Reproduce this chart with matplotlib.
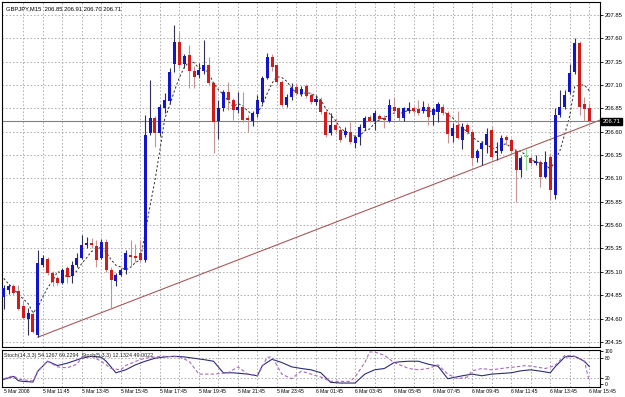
import matplotlib
matplotlib.use('Agg')
import matplotlib.pyplot as plt
import matplotlib.transforms as mtransforms

# GBPJPY M15, 5 Mar 09:45 .. 6 Mar 15:45 (121 bars)
opens = [204.83, 204.90, 204.95, 204.89, 204.73, 204.60, 204.65, 204.42, 205.17, 205.24,
         205.09, 205.03, 204.98, 205.14, 205.06, 205.17, 205.25, 205.39, 205.41, 205.38,
         205.25, 205.42, 205.12, 205.00, 205.07, 205.12, 205.28, 205.27, 205.30, 205.23,
         206.59, 206.75, 206.59, 206.85, 206.93, 207.33, 207.56, 207.32, 207.42, 207.25,
         207.21, 207.25, 207.31, 207.12, 206.72, 206.85, 207.03, 206.94, 206.83, 206.87,
         206.75, 206.71, 206.79, 206.92, 207.18, 207.40, 207.31, 207.13, 206.89, 206.97,
         207.08, 207.00, 207.09, 206.99, 206.92, 206.94, 206.81, 206.59, 206.67, 206.62,
         206.56, 206.60, 206.48, 206.54, 206.64, 206.76, 206.72, 206.77, 206.75, 206.72,
         206.87, 206.85, 206.75, 206.82, 206.85, 206.84, 206.82, 206.86, 206.78, 206.81,
         206.87, 206.80, 206.55, 206.67, 206.51, 206.67, 206.60, 206.32, 206.41, 206.46,
         206.62, 206.37, 206.39, 206.54, 206.51, 206.39, 206.19, 206.33, 206.32, 206.27,
         206.28, 206.12, 206.33, 205.92, 206.78, 206.86, 207.02, 207.24, 207.55, 206.90,
         206.85]
highs = [204.96, 204.97, 204.97, 204.96, 204.79, 204.71, 204.68, 205.33, 205.28, 205.26,
         205.11, 205.06, 205.14, 205.16, 205.22, 205.30, 205.49, 205.47, 205.46, 205.44,
         205.45, 205.45, 205.15, 205.09, 205.14, 205.33, 205.44, 205.40, 205.44, 206.78,
         207.15, 206.77, 206.90, 207.01, 207.28, 207.74, 207.67, 207.43, 207.53, 207.30,
         207.34, 207.58, 207.40, 207.13, 206.94, 207.05, 207.13, 206.96, 207.03, 207.02,
         206.78, 206.82, 206.99, 207.20, 207.44, 207.43, 207.33, 207.15, 207.00, 207.12,
         207.12, 207.09, 207.11, 207.01, 206.99, 206.97, 206.83, 206.80, 206.75, 206.65,
         206.65, 206.70, 206.56, 206.68, 206.77, 206.78, 206.83, 206.79, 206.78, 206.95,
         206.97, 206.87, 206.87, 206.92, 206.88, 206.94, 206.93, 206.91, 206.87, 206.92,
         206.90, 206.82, 206.69, 206.82, 206.69, 206.69, 206.62, 206.41, 206.50, 206.64,
         206.66, 206.49, 206.56, 206.57, 206.53, 206.41, 206.34, 206.41, 206.34, 206.35,
         206.30, 206.39, 206.37, 206.85, 207.05, 207.05, 207.33, 207.60, 207.57, 206.97,
         206.91]
lows = [204.70, 204.86, 204.85, 204.69, 204.60, 204.42, 204.44, 204.40, 205.15, 205.07,
        204.95, 204.96, 204.97, 204.98, 204.98, 205.15, 205.24, 205.36, 205.35, 205.15,
        205.24, 205.10, 204.71, 204.95, 205.05, 205.08, 205.15, 205.20, 205.21, 205.21,
        206.57, 206.44, 206.55, 206.80, 206.90, 207.24, 207.28, 207.28, 207.07, 207.07,
        207.18, 207.22, 207.10, 206.37, 206.52, 206.82, 206.83, 206.73, 206.80, 206.70,
        206.60, 206.66, 206.76, 206.90, 207.16, 207.25, 207.10, 206.86, 206.86, 206.94,
        206.99, 206.98, 206.96, 206.90, 206.89, 206.79, 206.54, 206.57, 206.58, 206.49,
        206.54, 206.47, 206.43, 206.46, 206.62, 206.70, 206.62, 206.72, 206.64, 206.70,
        206.80, 206.71, 206.72, 206.80, 206.79, 206.78, 206.80, 206.67, 206.67, 206.70,
        206.78, 206.48, 206.49, 206.52, 206.42, 206.58, 206.23, 206.28, 206.24, 206.37,
        206.30, 206.30, 206.37, 206.46, 206.37, 205.85, 206.12, 206.19, 206.23, 206.24,
        206.01, 206.10, 205.87, 205.88, 206.76, 206.84, 207.00, 207.22, 206.78, 206.72,
        206.70]
closes = [204.93, 204.95, 204.87, 204.70, 204.61, 204.66, 204.46, 205.19, 205.25, 205.09,
          204.99, 204.98, 205.12, 205.04, 205.17, 205.25, 205.39, 205.41, 205.39, 205.23,
          205.42, 205.12, 205.01, 205.07, 205.12, 205.30, 205.26, 205.25, 205.23, 206.57,
          206.75, 206.59, 206.87, 206.94, 207.24, 207.56, 207.31, 207.41, 207.25, 207.19,
          207.26, 207.31, 207.12, 206.70, 206.85, 207.03, 206.94, 206.83, 206.86, 206.73,
          206.73, 206.80, 206.94, 207.18, 207.40, 207.29, 207.13, 206.89, 206.97, 207.07,
          207.01, 207.06, 206.98, 206.92, 206.95, 206.81, 206.57, 206.67, 206.62, 206.51,
          206.61, 206.49, 206.54, 206.65, 206.75, 206.72, 206.80, 206.74, 206.73, 206.89,
          206.82, 206.75, 206.85, 206.85, 206.82, 206.80, 206.86, 206.76, 206.84, 206.90,
          206.80, 206.58, 206.64, 206.53, 206.65, 206.60, 206.32, 206.39, 206.48, 206.58,
          206.33, 206.39, 206.53, 206.51, 206.39, 206.19, 206.32, 206.33, 206.26, 206.29,
          206.12, 206.28, 205.98, 206.78, 206.86, 206.99, 207.23, 207.55, 206.87, 206.84,
          206.71]

# dashed moving average
ma_line = [205.03, 204.97, 204.92, 204.86, 204.81, 204.76, 204.66, 204.72, 204.83, 204.93,
           205.00, 205.10, 205.09, 205.04, 205.06, 205.11, 205.19, 205.25, 205.32, 205.33,
           205.37, 205.31, 205.23, 205.17, 205.15, 205.12, 205.15, 205.20, 205.23, 205.52,
           205.81, 206.08, 206.40, 206.74, 206.88, 207.04, 207.18, 207.29, 207.35, 207.34,
           207.28, 207.28, 207.23, 207.12, 207.05, 207.00, 206.93, 206.87, 206.90, 206.88,
           206.82, 206.79, 206.81, 206.88, 207.01, 207.12, 207.19, 207.18, 207.14, 207.07,
           207.01, 207.00, 207.02, 207.01, 206.98, 206.94, 206.85, 206.78, 206.72, 206.64,
           206.60, 206.58, 206.55, 206.56, 206.61, 206.63, 206.69, 206.73, 206.75, 206.78,
           206.80, 206.79, 206.81, 206.83, 206.82, 206.81, 206.84, 206.82, 206.82, 206.83,
           206.83, 206.78, 206.75, 206.69, 206.64, 206.60, 206.55, 206.50, 206.49, 206.47,
           206.42, 206.43, 206.46, 206.47, 206.43, 206.40, 206.39, 206.35, 206.30, 206.28,
           206.26, 206.26, 206.19, 206.29, 206.40, 206.58, 206.77, 207.08, 207.10, 207.10,
           207.04]

# stochastic lines (bar index, value)
stoch14_bars = [0, 2, 3, 4, 6, 7, 9, 11, 13, 16, 18, 20, 21, 23, 25, 27, 29, 31, 33, 35,
                37, 39, 41, 43, 45, 47, 50, 52, 53, 55, 57, 59, 61, 63, 65, 67, 69, 72, 74,
                76, 78, 80, 81, 83, 85, 87, 89, 91, 94, 96, 98, 100, 102, 104, 106, 108, 110,
                112, 113, 115, 117, 119, 120]
stoch14 = [15, 24, 11, 9, 7, 40, 70, 57, 64, 79, 85, 82, 70, 35, 44, 59, 70, 79, 83, 85,
           83, 79, 75, 70, 35, 35, 31, 26, 57, 76, 66, 53, 48, 44, 35, 6, 4, 4, 31,
           44, 48, 66, 68, 70, 70, 61, 55, 17, 26, 31, 26, 31, 33, 35, 41, 44, 40,
           35, 53, 83, 85, 70, 54]
stoch5_bars = [0, 2, 3, 6, 7, 9, 11, 13, 15, 16, 18, 20, 22, 24, 25, 28, 29, 31, 33, 36,
               38, 40, 43, 46, 48, 50, 52, 54, 55, 57, 59, 61, 63, 65, 67, 71, 72, 74, 75,
               76, 78, 80, 83, 85, 87, 89, 91, 93, 95, 96, 98, 100, 103, 105, 107, 109, 111,
               113, 115, 117, 119, 120]
stoch5 = [17, 26, 16, 10, 41, 70, 53, 50, 61, 82, 85, 70, 48, 44, 57, 75, 79, 83, 85, 83,
          70, 31, 31, 35, 53, 31, 26, 82, 83, 31, 17, 40, 31, 22, 9, 9, 22, 66, 98,
          98, 88, 66, 48, 44, 48, 59, 31, 17, 22, 41, 48, 44, 50, 53, 57, 53, 48,
          57, 88, 85, 70, 9]

price_ticks = [207.85, 207.60, 207.35, 207.10, 206.85, 206.60, 206.35, 206.10,
               205.85, 205.60, 205.35, 205.10, 204.85, 204.60, 204.35]
time_bars = [0, 8, 16, 24, 32, 40, 48, 56, 64, 72, 80, 88, 96, 104, 112, 120]
time_labels = ['5 Mar 2008', '5 Mar 11:45', '5 Mar 13:45', '5 Mar 15:45', '5 Mar 17:45',
               '5 Mar 19:45', '5 Mar 21:45', '5 Mar 23:45', '6 Mar 01:45', '6 Mar 03:45',
               '6 Mar 05:45', '6 Mar 07:45', '6 Mar 09:45', '6 Mar 11:45', '6 Mar 13:45',
               '6 Mar 15:45']
last_price = 206.71
trend_bars = [7, 120]
trend_prices = [204.40, 206.68]
doji_bars = [107]

plt.rcParams['font.family'] = ['Liberation Sans', 'DejaVu Sans']

W, H = 625, 397
fig = plt.figure(figsize=(W / 100, H / 100), dpi=100)
fig.patch.set_facecolor('white')

# panels (pixel boxes -> figure fractions)
ax = fig.add_axes([2 / W, 1 - 347 / H, 598 / W, 345 / H])
ax2 = fig.add_axes([2 / W, 1 - 387 / H, 598 / W, 37 / H], sharex=ax)

x_left, x_right = -0.35, 122.2
ax.set_xlim(x_left, x_right)
ax.set_ylim(204.295, 207.989)
ax2.set_ylim(-8, 104)

grid_kw = dict(color='#b0b0b0', lw=0.7, ls=(0, (1.6, 2.0)), zorder=0)
vgrid = list(range(4, 123, 4))
for g in vgrid:
    ax.axvline(g, **grid_kw)
    ax2.axvline(g, **grid_kw)
for p in price_ticks:
    ax.axhline(p, **grid_kw)
for lv in [20, 80]:
    ax2.axhline(lv, **grid_kw)

# moving average (behind candles)
n = len(closes)
xs = list(range(n))
ax.plot(xs, ma_line, color='#2a2a2a', lw=0.7, ls=(0, (2.2, 2.2)), zorder=1)

# trend line and current price line
slope = (trend_prices[1] - trend_prices[0]) / (trend_bars[1] - trend_bars[0])
ax.plot([trend_bars[0], x_right], [trend_prices[0], trend_prices[0] + slope * (x_right - trend_bars[0])],
        color='#a85a5a', lw=0.8, zorder=2)
ax.axhline(last_price, color='#808080', lw=0.8, zorder=2)

# candles
up_body, dn_body = '#1414c8', '#d21c1c'
up_wick, dn_wick = '#303058', '#c49494'
for i in range(n):
    o, h, l, c = opens[i], highs[i], lows[i], closes[i]
    if i in doji_bars:
        ax.vlines(i, l, h, color='#90d890', lw=0.8, zorder=3)
        ax.bar(i, 0.012, bottom=min(o, c), width=0.6, color='#90d890', zorder=4)
        continue
    up = c >= o
    ax.vlines(i, l, h, color=up_wick if up else dn_wick, lw=0.8, zorder=3)
    ax.bar(i, max(abs(c - o), 0.012), bottom=min(o, c), width=0.62,
           color=up_body if up else dn_body, lw=0, zorder=4)

# stochastic
ax2.plot(stoch14_bars, stoch14, color='#2c2c78', lw=0.8, zorder=3)
ax2.plot(stoch5_bars, stoch5, color='#a868c0', lw=0.8, ls=(0, (3, 2)), zorder=3)

# axes styling
for a in (ax, ax2):
    for s in a.spines.values():
        s.set_color('black')
        s.set_linewidth(0.8)
    a.set_facecolor('white')

ax.yaxis.tick_right()
ax.set_yticks(price_ticks)
ax.set_yticklabels(['%.2f' % p for p in price_ticks])
ax.tick_params(axis='y', direction='out', length=2, width=0.6, pad=1.5, labelsize=4.2)
ax.tick_params(axis='x', length=0, labelbottom=False)

ax2.yaxis.tick_right()
ax2.set_yticks([0, 20, 80, 100])
ax2.set_yticklabels(['0', '20', '80', '100'])
ax2.tick_params(axis='y', direction='out', length=2, width=0.6, pad=1.5, labelsize=3.6)
ax2.set_xticks(time_bars)
ax2.set_xticklabels(time_labels, ha='left')
ax2.tick_params(axis='x', length=0, pad=1.5, labelsize=3.6)

# current price tag
trans = mtransforms.blended_transform_factory(ax.transAxes, ax.transData)
ax.text(1.004, last_price, '%.2f' % last_price, transform=trans, color='white',
        fontsize=4.2, va='center', ha='left', zorder=10, clip_on=False,
        bbox=dict(boxstyle='square,pad=0.2', fc='black', ec='black'))

ax.text(0.006, 0.988, 'GBPJPY,M15  206.85 206.91 206.70 206.71', transform=ax.transAxes,
        fontsize=4.2, va='top', ha='left', color='black')
ax2.text(0.003, 0.93, 'Stoch(14,3,3) 54.1267 69.2294  Stoch(5,3,3) 12.1324 49.0022',
         transform=ax2.transAxes, fontsize=3.9, va='top', ha='left', color='#202020', zorder=5)

fig.savefig('out.png', dpi=100)
